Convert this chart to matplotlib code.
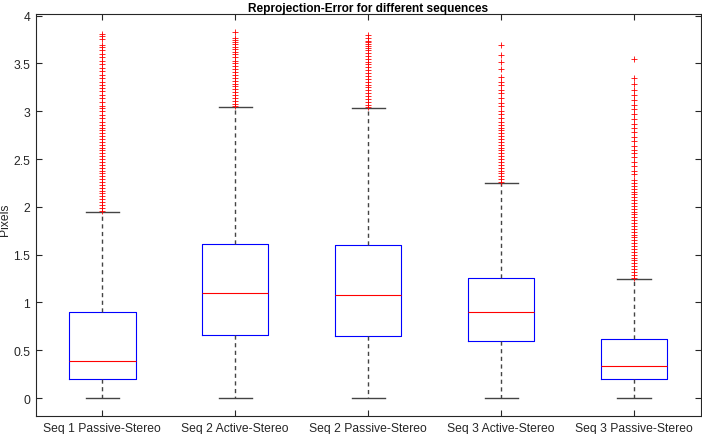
import matplotlib
matplotlib.use("Agg")
import matplotlib.pyplot as plt

plt.rcParams['font.family'] = ['Liberation Sans', 'DejaVu Sans']

# box statistics
labels = ['Seq 1 Passive-Stereo', 'Seq 2 Active-Stereo', 'Seq 2 Passive-Stereo',
          'Seq 3 Active-Stereo', 'Seq 3 Passive-Stereo']
q1 = [0.20, 0.66, 0.65, 0.60, 0.20]
medians = [0.39, 1.10, 1.08, 0.90, 0.33]
q3 = [0.90, 1.61, 1.60, 1.26, 0.62]
whisk_lo = [0.0, 0.0, 0.0, 0.0, 0.0]
whisk_hi = [1.95, 3.04, 3.03, 2.25, 1.25]

# outliers (estimated positions of the red crosses)
fliers_1 = [1.96, 1.99, 2.02, 2.05, 2.08, 2.11, 2.14, 2.17, 2.20, 2.23, 2.26, 2.29,
            2.32, 2.35, 2.38, 2.41, 2.44, 2.47, 2.50, 2.53, 2.56, 2.59, 2.62, 2.65,
            2.68, 2.71, 2.74, 2.77, 2.80, 2.83, 2.86, 2.89,
            2.93, 2.96, 3.00, 3.03, 3.06, 3.10, 3.14, 3.17, 3.21, 3.24, 3.28, 3.31,
            3.35, 3.38, 3.42, 3.45, 3.49, 3.53, 3.57, 3.60, 3.64, 3.67, 3.69, 3.76,
            3.79, 3.81]
fliers_2 = [3.05, 3.08, 3.11, 3.14, 3.17, 3.20, 3.23, 3.26, 3.29, 3.32, 3.35, 3.38,
            3.41, 3.44, 3.47, 3.50, 3.53,
            3.57, 3.60, 3.62, 3.65, 3.67, 3.70, 3.73, 3.75, 3.77, 3.83]
fliers_3 = [3.04, 3.07, 3.10, 3.13, 3.16, 3.19, 3.22, 3.25, 3.28, 3.31, 3.34, 3.37,
            3.40, 3.43, 3.46, 3.49, 3.52, 3.55, 3.58, 3.61, 3.64, 3.66, 3.68, 3.70,
            3.72, 3.74, 3.77, 3.80]
fliers_4 = [2.26, 2.29, 2.32, 2.35, 2.38, 2.41, 2.44, 2.47, 2.50, 2.53, 2.56, 2.59,
            2.62, 2.65, 2.68, 2.71, 2.74, 2.77, 2.80, 2.83, 2.86, 2.89,
            2.93, 2.97, 3.00, 3.05, 3.09, 3.14, 3.19, 3.22, 3.27, 3.31, 3.36, 3.44,
            3.52, 3.59, 3.69]
fliers_5 = [1.26, 1.29, 1.32, 1.35, 1.38, 1.41, 1.44, 1.47, 1.50, 1.53, 1.56, 1.59,
            1.62, 1.65, 1.68, 1.71, 1.74, 1.77, 1.80, 1.83, 1.86, 1.89, 1.92, 1.95,
            1.98, 2.01, 2.04, 2.07, 2.10, 2.13, 2.16, 2.19, 2.22, 2.25, 2.28,
            2.34, 2.38, 2.43, 2.47, 2.52, 2.56, 2.60, 2.64, 2.69, 2.73, 2.78, 2.82,
            2.87, 2.92, 2.97, 3.02, 3.07, 3.12, 3.17, 3.22, 3.29, 3.35, 3.55]
fliers = [fliers_1, fliers_2, fliers_3, fliers_4, fliers_5]

stats = []
for i in range(len(labels)):
    stats.append({'label': labels[i], 'q1': q1[i], 'med': medians[i], 'q3': q3[i],
                  'whislo': whisk_lo[i], 'whishi': whisk_hi[i], 'fliers': fliers[i]})

fig = plt.figure(figsize=(7.02, 4.35), dpi=100)
ax = fig.add_axes([0.051, 0.041, 0.947, 0.925])

ax.bxp(stats, widths=0.5, showfliers=True,
       boxprops=dict(color='#0000ff', linewidth=0.8),
       medianprops=dict(color='#ff0000', linewidth=0.8),
       whiskerprops=dict(color='#444444', linestyle=(0, (3, 2.5)), linewidth=1.0),
       capprops=dict(color='#444444', linewidth=1.0),
       flierprops=dict(marker='+', markeredgecolor='#ff0000', markersize=4,
                       markeredgewidth=0.6, linestyle='none'))

ax.set_xlim(0.5, 5.5)
ax.set_ylim(-0.19, 4.02)
ax.set_yticks([0, 0.5, 1, 1.5, 2, 2.5, 3, 3.5, 4])
ax.set_yticklabels(['0', '0.5', '1', '1.5', '2', '2.5', '3', '3.5', '4'])
ax.tick_params(direction='in', top=True, right=True, length=4, width=0.8,
               colors='#262626', labelsize=8.7, labelcolor='#262626')
ax.tick_params(axis='x', pad=4)
ax.tick_params(axis='y', pad=4)
for s in ax.spines.values():
    s.set_color('#262626')
    s.set_linewidth(0.8)

ax.set_ylabel('Pixels', fontsize=8.7, color='#262626')
ax.yaxis.set_label_coords(-0.037, 0.49)
ax.set_title('Reprojection-Error for different sequences', fontsize=8.6,
             fontweight='bold', pad=2)

fig.savefig('out.png', dpi=100)
